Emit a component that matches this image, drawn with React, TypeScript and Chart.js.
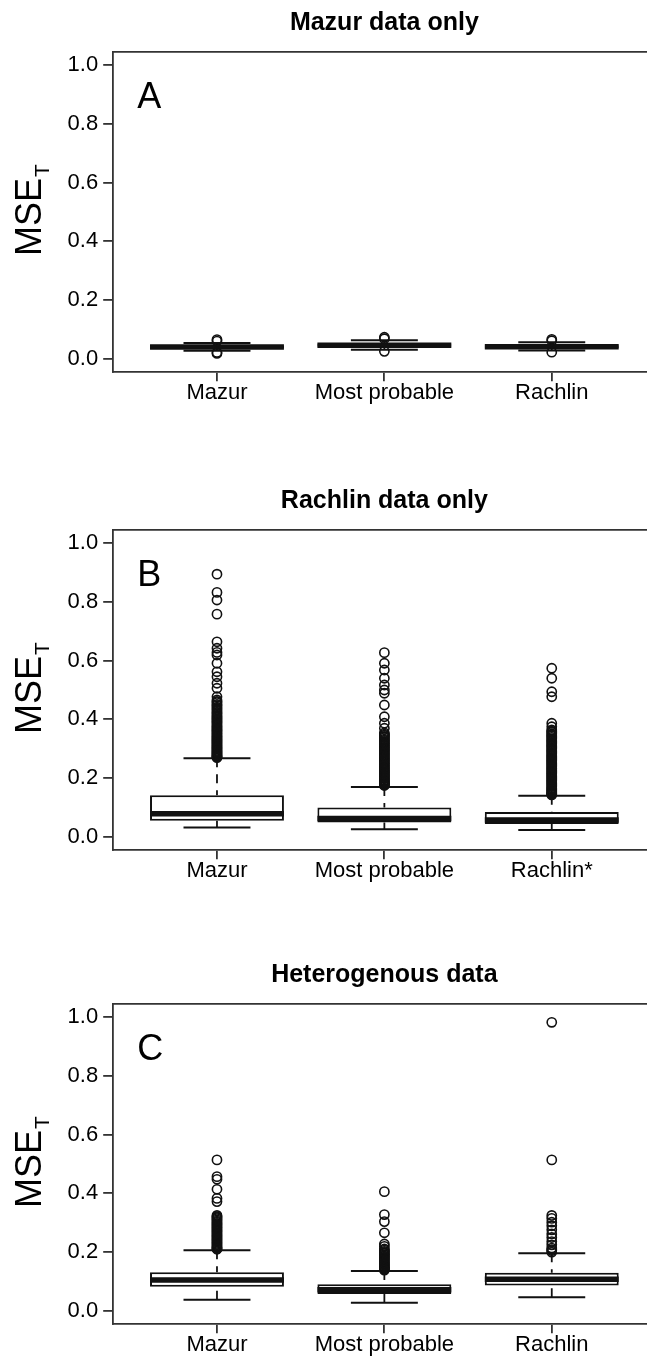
import React, { useEffect, useRef } from 'react';
import { Chart, registerables } from 'chart.js';

Chart.register(...registerables);

const FONT = '"Liberation Sans", Arial, Helvetica, sans-serif';

// ---- shared axis content ----
const Y_TICKS = [0, 0.2, 0.4, 0.6, 0.8, 1.0];
const Y_LABEL = 'MSE';
const Y_LABEL_SUB = 'T';

// ---- Panel A ----
const TITLE_A = 'Mazur data only';
const LETTER_A = 'A';
const CATEGORIES_A = ['Mazur', 'Most probable', 'Rachlin'];
const LOWER_A = [0.028, 0.031, 0.029];
const Q1_A = [0.036, 0.042, 0.037];
const MEDIAN_A = [0.041, 0.047, 0.042];
const Q3_A = [0.046, 0.053, 0.047];
const UPPER_A = [0.054, 0.064, 0.057];
const OUTLIERS_A = [
  [0.066, 0.061, 0.022, 0.019],
  [0.074, 0.069, 0.026],
  [0.067, 0.062, 0.023],
];

// ---- Panel B ----
const TITLE_B = 'Rachlin data only';
const LETTER_B = 'B';
const CATEGORIES_B = ['Mazur', 'Most probable', 'Rachlin*'];
const LOWER_B = [0.032, 0.026, 0.024];
const Q1_B = [0.055, 0.049, 0.044];
const MEDIAN_B = [0.079, 0.063, 0.058];
const Q3_B = [0.142, 0.1, 0.085];
const UPPER_B = [0.268, 0.17, 0.14];
const OUTLIERS_B = [
  [0.894, 0.832, 0.806, 0.758, 0.664, 0.642, 0.628, 0.619, 0.591, 0.562, 0.545, 0.523, 0.506, 0.477,
    0.466, 0.461, 0.457, 0.451, 0.447, 0.442, 0.438, 0.433, 0.428, 0.423, 0.419, 0.414, 0.41, 0.406,
    0.402, 0.398, 0.394, 0.39, 0.386, 0.381, 0.377, 0.373, 0.369, 0.365, 0.362, 0.358, 0.354, 0.35,
    0.346, 0.342, 0.339, 0.335, 0.332, 0.328, 0.325, 0.321, 0.318, 0.314, 0.311, 0.307, 0.304, 0.301,
    0.298, 0.294, 0.291, 0.288, 0.285, 0.282, 0.279, 0.276, 0.274, 0.272, 0.27],
  [0.627, 0.591, 0.568, 0.54, 0.517, 0.5, 0.489, 0.449, 0.409, 0.387, 0.37,
    0.354, 0.35, 0.346, 0.342, 0.338, 0.333, 0.329, 0.325, 0.321, 0.317, 0.313, 0.309, 0.305, 0.301,
    0.297, 0.293, 0.289, 0.285, 0.281, 0.277, 0.273, 0.269, 0.265, 0.261, 0.257, 0.253, 0.249, 0.245,
    0.241, 0.237, 0.233, 0.229, 0.226, 0.222, 0.219, 0.215, 0.212, 0.208, 0.205, 0.201, 0.198, 0.194,
    0.191, 0.188, 0.185, 0.182, 0.179, 0.177, 0.175],
  [0.574, 0.54, 0.494, 0.477, 0.387, 0.375,
    0.364, 0.36, 0.356, 0.351, 0.347, 0.343, 0.339, 0.334, 0.33, 0.326, 0.322, 0.317, 0.313, 0.309,
    0.305, 0.3, 0.296, 0.292, 0.288, 0.283, 0.279, 0.275, 0.271, 0.267, 0.263, 0.259, 0.255, 0.251,
    0.247, 0.243, 0.239, 0.235, 0.231, 0.227, 0.223, 0.219, 0.215, 0.211, 0.207, 0.203, 0.199, 0.195,
    0.191, 0.187, 0.183, 0.179, 0.175, 0.171, 0.167, 0.163, 0.16, 0.156, 0.153, 0.15, 0.147, 0.145, 0.143],
];

// ---- Panel C ----
const TITLE_C = 'Heterogenous data';
const LETTER_C = 'C';
const CATEGORIES_C = ['Mazur', 'Most probable', 'Rachlin'];
const LOWER_C = [0.038, 0.028, 0.047];
const Q1_C = [0.082, 0.058, 0.087];
const MEDIAN_C = [0.105, 0.072, 0.108];
const Q3_C = [0.132, 0.091, 0.13];
const UPPER_C = [0.207, 0.136, 0.196];
const OUTLIERS_C = [
  [0.514, 0.457, 0.448, 0.414, 0.383, 0.372,
    0.325, 0.321, 0.318, 0.314, 0.31, 0.306, 0.302, 0.298, 0.294, 0.29, 0.286, 0.282, 0.278, 0.274,
    0.27, 0.266, 0.262, 0.258, 0.254, 0.25, 0.246, 0.242, 0.238, 0.234, 0.23, 0.226, 0.222, 0.218,
    0.215, 0.212, 0.21],
  [0.406, 0.328, 0.304, 0.266, 0.228, 0.22,
    0.211, 0.207, 0.203, 0.199, 0.195, 0.191, 0.187, 0.183, 0.179, 0.175, 0.171, 0.167, 0.163,
    0.159, 0.156, 0.152, 0.149, 0.146, 0.143, 0.141, 0.139],
  [0.982, 0.514, 0.325, 0.315, 0.302, 0.29, 0.276, 0.262, 0.25, 0.236, 0.225, 0.214, 0.209, 0.205, 0.2],
];

const X_MIN = 0.38;
const X_MAX = 3.569;
const BOX_HALF = 0.4;
const CAP_HALF = 0.2;
const TITLE_SHIFT = 8.5;
const INK = '#111';

type PanelProps = {
  top: number;
  title: string;
  letter: string;
  categories: string[];
  lower: number[];
  q1: number[];
  median: number[];
  q3: number[];
  upper: number[];
  outliers: number[][];
};

function decorPlugin(letter: string) {
  return {
    id: 'decor' + letter,
    afterLayout(chart: any) {
      // the original plot frame continues past the image edge; centre the title on that frame
      const t = chart.titleBlock;
      if (t) {
        t.right = chart.chartArea.right + TITLE_SHIFT;
      }
    },
    afterDraw(chart: any) {
      const { ctx, chartArea } = chart;
      ctx.save();
      // top spine
      ctx.strokeStyle = '#333';
      ctx.lineWidth = 1.8;
      ctx.beginPath();
      ctx.moveTo(chartArea.left - 0.9, chartArea.top);
      ctx.lineTo(chartArea.right, chartArea.top);
      ctx.stroke();
      // panel letter
      ctx.fillStyle = '#000';
      ctx.font = `36px ${FONT}`;
      ctx.textAlign = 'left';
      ctx.textBaseline = 'alphabetic';
      ctx.fillText(letter, chartArea.left + 24, chartArea.top + 56);
      // y axis label with subscript
      const cy = (chartArea.top + chartArea.bottom) / 2 - 2;
      ctx.translate(41, cy);
      ctx.rotate(-Math.PI / 2);
      ctx.font = `36px ${FONT}`;
      const wMain = ctx.measureText(Y_LABEL).width;
      ctx.font = `21px ${FONT}`;
      const wSub = ctx.measureText(Y_LABEL_SUB).width;
      const total = wMain + wSub + 1;
      ctx.font = `36px ${FONT}`;
      ctx.fillText(Y_LABEL, -total / 2, 0);
      ctx.font = `21px ${FONT}`;
      ctx.fillText(Y_LABEL_SUB, -total / 2 + wMain + 1, 8);
      ctx.restore();
    },
  };
}

function BoxPanel(p: PanelProps) {
  const ref = useRef<HTMLCanvasElement | null>(null);
  useEffect(() => {
    if (!ref.current) return;
    const n = p.categories.length;
    const boxData = p.categories.map((_, i) => ({ x: i + 1, y: [p.q1[i], p.q3[i]] }));
    const medianData: any[] = [];
    const capData: any[] = [];
    const whiskerData: any[] = [];
    const outlierData: any[] = [];
    for (let i = 0; i < n; i++) {
      const c = i + 1;
      medianData.push({ x: c - BOX_HALF, y: p.median[i] }, { x: c + BOX_HALF, y: p.median[i] }, { x: c + 0.5, y: null });
      capData.push({ x: c - CAP_HALF, y: p.upper[i] }, { x: c + CAP_HALF, y: p.upper[i] }, { x: c + 0.5, y: null });
      capData.push({ x: c - CAP_HALF, y: p.lower[i] }, { x: c + CAP_HALF, y: p.lower[i] }, { x: c + 0.5, y: null });
      whiskerData.push({ x: c, y: p.upper[i] }, { x: c, y: p.q3[i] }, { x: c, y: null });
      whiskerData.push({ x: c, y: p.lower[i] }, { x: c, y: p.q1[i] }, { x: c, y: null });
      p.outliers[i].forEach((v) => outlierData.push({ x: c, y: v }));
    }
    const chart = new Chart(ref.current, {
      type: 'line',
      data: {
        datasets: [
          {
            type: 'line',
            data: outlierData,
            showLine: false,
            pointStyle: 'circle',
            pointRadius: 4.6,
            pointBorderWidth: 1.6,
            pointBorderColor: INK,
            pointBackgroundColor: 'rgba(255,255,255,0)',
          } as any,
          {
            type: 'line',
            data: medianData,
            borderColor: INK,
            borderWidth: 5.5,
            borderCapStyle: 'butt',
            pointRadius: 0,
            spanGaps: false,
            tension: 0,
          } as any,
          {
            type: 'line',
            data: capData,
            borderColor: INK,
            borderWidth: 2,
            pointRadius: 0,
            spanGaps: false,
            tension: 0,
          } as any,
          {
            type: 'line',
            data: whiskerData,
            borderColor: INK,
            borderWidth: 1.8,
            borderDash: [9, 7],
            pointRadius: 0,
            spanGaps: false,
            tension: 0,
          } as any,
          {
            type: 'bar',
            data: boxData,
            backgroundColor: '#fff',
            borderColor: INK,
            borderWidth: 2,
            borderSkipped: false,
            grouped: false,
            barPercentage: 0.8,
            categoryPercentage: 1,
          } as any,
        ],
      },
      options: {
        animation: false,
        responsive: false,
        devicePixelRatio: 1,
        events: [],
        layout: { autoPadding: false, padding: { left: 0, right: 0, top: 0, bottom: 55.8 } },
        plugins: {
          legend: { display: false },
          tooltip: { enabled: false },
          title: {
            display: true,
            text: p.title,
            fullSize: false,
            color: '#000',
            font: { family: FONT, size: 25, weight: 'bold', lineHeight: 1.2 },
            padding: { top: 8, bottom: 13.8 },
          },
        },
        scales: {
          x: {
            type: 'linear',
            position: 'bottom',
            min: X_MIN,
            max: X_MAX,
            offset: false,
            afterBuildTicks: (s: any) => {
              s.ticks = p.categories.map((_, i) => ({ value: i + 1 }));
            },
            afterFit: (s: any) => {
              s.height = 50;
            },
            ticks: {
              autoSkip: false,
              maxRotation: 0,
              minRotation: 0,
              padding: -1,
              color: '#000',
              font: { family: FONT, size: 22 },
              callback: (v: any) => p.categories[Math.round(Number(v)) - 1] ?? '',
            },
            grid: {
              display: true,
              offset: false,
              drawOnChartArea: false,
              drawTicks: true,
              tickLength: 9,
              color: '#333',
              lineWidth: 1.8,
            },
            border: { display: true, color: '#333', width: 1.8 },
          },
          y: {
            type: 'linear',
            position: 'left',
            min: -0.045,
            max: 1.045,
            afterBuildTicks: (s: any) => {
              s.ticks = Y_TICKS.map((v) => ({ value: v }));
            },
            afterFit: (s: any) => {
              s.width = 113.2;
            },
            ticks: {
              padding: 5,
              color: '#000',
              font: { family: FONT, size: 22 },
              callback: (v: any) => Number(v).toFixed(1),
            },
            grid: {
              display: true,
              offset: false,
              drawOnChartArea: false,
              drawTicks: true,
              tickLength: 10,
              color: '#333',
              lineWidth: 1.8,
            },
            border: { display: true, color: '#333', width: 1.8 },
          },
        },
      } as any,
      plugins: [decorPlugin(p.letter)],
    });
    return () => chart.destroy();
  }, []);
  return (
    <canvas
      ref={ref}
      width={647}
      height={478}
      style={{ position: 'absolute', left: 0, top: p.top, width: 647, height: 478 }}
    />
  );
}

export default function App() {
  return (
    <div
      style={{
        position: 'fixed',
        left: 0,
        top: 0,
        width: 647,
        height: 1357,
        overflow: 'hidden',
        background: '#fff',
      }}
    >
      <BoxPanel
        top={0}
        title={TITLE_A}
        letter={LETTER_A}
        categories={CATEGORIES_A}
        lower={LOWER_A}
        q1={Q1_A}
        median={MEDIAN_A}
        q3={Q3_A}
        upper={UPPER_A}
        outliers={OUTLIERS_A}
      />
      <BoxPanel
        top={478}
        title={TITLE_B}
        letter={LETTER_B}
        categories={CATEGORIES_B}
        lower={LOWER_B}
        q1={Q1_B}
        median={MEDIAN_B}
        q3={Q3_B}
        upper={UPPER_B}
        outliers={OUTLIERS_B}
      />
      <BoxPanel
        top={952}
        title={TITLE_C}
        letter={LETTER_C}
        categories={CATEGORIES_C}
        lower={LOWER_C}
        q1={Q1_C}
        median={MEDIAN_C}
        q3={Q3_C}
        upper={UPPER_C}
        outliers={OUTLIERS_C}
      />
    </div>
  );
}
